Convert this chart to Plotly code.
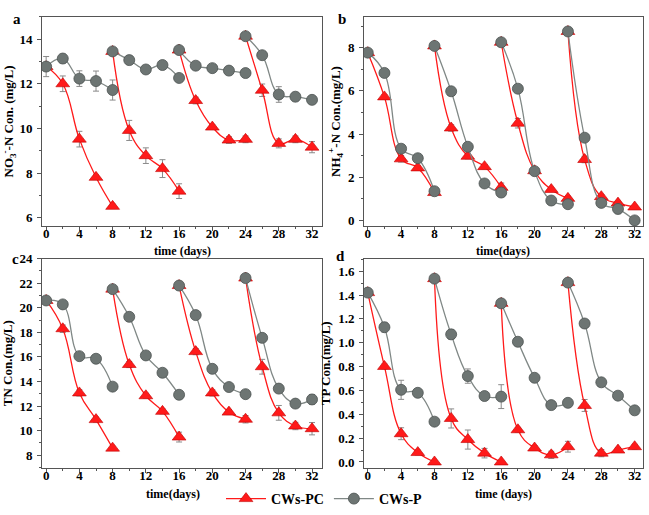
import plotly.graph_objects as go

# ---------------- data (per cycle: 5 sampling days) ----------------
cycle_days = [[0, 2, 4, 6, 8], [8, 10, 12, 14, 16], [16, 18, 20, 22, 24], [24, 26, 28, 30, 32]]
series_names = ["CWs-PC", "CWs-P"]

# a: NO3--N
no3_pc = [[12.77, 12.0, 9.52, 7.81, 6.51], [13.45, 9.91, 8.78, 8.2, 7.19],
          [13.51, 11.25, 10.06, 9.48, 9.51], [14.13, 11.71, 9.33, 9.51, 9.16]]
no3_pc_err = [[0.1, 0.35, 0.35, 0.1, 0.1], [0.1, 0.45, 0.35, 0.4, 0.33],
              [0.1, 0.15, 0.1, 0.15, 0.15], [0.1, 0.28, 0.2, 0.15, 0.25]]
no3_p = [[12.77, 13.13, 12.23, 12.12, 11.72], [13.45, 13.06, 12.64, 12.84, 12.26],
         [13.51, 12.81, 12.7, 12.59, 12.48], [14.13, 13.28, 11.52, 11.42, 11.28]]
no3_p_err = [[0.45, 0.2, 0.35, 0.45, 0.45], [0.1, 0.2, 0.1, 0.1, 0.1],
             [0.1, 0.12, 0.1, 0.1, 0.1], [0.1, 0.1, 0.35, 0.2, 0.15]]

# b: NH4+-N
nh4_pc = [[7.77, 5.72, 2.85, 2.43, 1.29], [8.08, 4.28, 2.97, 2.49, 1.53],
          [8.25, 4.5, 2.3, 1.43, 1.02], [8.75, 2.82, 1.1, 0.8, 0.62]]
nh4_pc_err = [[0.08, 0.1, 0.15, 0.1, 0.12], [0.08, 0.15, 0.12, 0.1, 0.2],
              [0.08, 0.22, 0.1, 0.08, 0.1], [0.08, 0.15, 0.1, 0.08, 0.05]]
nh4_p = [[7.77, 6.83, 3.32, 2.88, 1.35], [8.08, 5.98, 3.41, 1.71, 1.29],
         [8.25, 6.1, 2.28, 0.92, 0.75], [8.75, 3.83, 0.81, 0.53, 0.0]]
nh4_p_err = [[0.08, 0.05, 0.05, 0.05, 0.15], [0.08, 0.05, 0.1, 0.05, 0.05],
             [0.08, 0.05, 0.1, 0.05, 0.05], [0.08, 0.1, 0.1, 0.22, 0.05]]

# c: TN
tn_pc = [[20.59, 18.29, 13.07, 10.9, 8.58], [21.51, 15.38, 12.84, 11.57, 9.48],
         [21.8, 16.43, 13.07, 11.51, 10.93], [22.41, 15.2, 11.45, 10.38, 10.16]]
tn_pc_err = [[0.2, 0.3, 0.25, 0.2, 0.15], [0.2, 0.25, 0.2, 0.2, 0.4],
             [0.2, 0.25, 0.25, 0.2, 0.3], [0.2, 0.6, 0.6, 0.3, 0.5]]
tn_p = [[20.59, 20.27, 16.06, 15.85, 13.58], [21.51, 19.26, 16.12, 14.71, 12.92],
        [21.8, 19.4, 15.03, 13.55, 12.97], [22.41, 17.55, 13.42, 12.2, 12.54]]
tn_p_err = [[0.2, 0.1, 0.1, 0.1, 0.1], [0.2, 0.15, 0.1, 0.1, 0.1],
            [0.2, 0.1, 0.1, 0.1, 0.1], [0.2, 0.1, 0.1, 0.15, 0.4]]

# d: TP
tp_pc = [[1.42, 0.801, 0.237, 0.079, 0.0], [1.537, 0.365, 0.188, 0.074, 0.0],
         [1.33, 0.27, 0.117, 0.06, 0.128], [1.504, 0.474, 0.074, 0.1, 0.128]]
tp_pc_err = [[0.02, 0.02, 0.05, 0.02, 0.01], [0.02, 0.08, 0.08, 0.04, 0.01],
             [0.02, 0.02, 0.02, 0.03, 0.045], [0.02, 0.05, 0.03, 0.02, 0.02]]
tp_p = [[1.42, 1.13, 0.605, 0.58, 0.338], [1.537, 1.07, 0.72, 0.553, 0.548],
        [1.33, 1.008, 0.706, 0.477, 0.496], [1.504, 1.161, 0.668, 0.556, 0.433]]
tp_p_err = [[0.02, 0.04, 0.08, 0.02, 0.02], [0.02, 0.04, 0.06, 0.02, 0.1],
            [0.02, 0.02, 0.02, 0.02, 0.02], [0.02, 0.02, 0.02, 0.02, 0.03]]

panel_letters = ["a", "b", "c", "d"]
y_titles = ["NO<sub>3</sub><sup>-</sup>-N Con. (mg/L)", "NH<sub>4</sub><sup>+</sup>-N Con.(mg/L)",
            "TN Con.(mg/L)", "TP Con.(mg/L)"]
x_titles = ["time (days)", "time(days)", "time(days)", "time (days)"]
y_ranges = [[5.62, 15.0], [-0.27, 9.43], [6.97, 24.0], [-0.05, 1.706]]
y_dticks = [2, 2, 2, 0.2]
y_minor = [1, 1, 1, 0.1]

panels = [(no3_pc, no3_pc_err, no3_p, no3_p_err),
          (nh4_pc, nh4_pc_err, nh4_p, nh4_p_err),
          (tn_pc, tn_pc_err, tn_p, tn_p_err),
          (tp_pc, tp_pc_err, tp_p, tp_p_err)]

# ---------------- styling ----------------
W, H = 649, 515
FONT = "Liberation Serif"
RED = "#ff1a1a"
GRAY_LINE = "#808886"
GRAY_FILL = "#6d7573"
GRAY_EDGE = "#4c5352"
ERR = "#8a8a8a"
AX = "#555555"

def px_x(a, b):
    return [a / W, b / W]

def px_y(top, bottom):
    return [1 - bottom / H, 1 - top / H]

x_domains = [px_x(42, 322), px_x(364, 643), px_x(42, 322), px_x(364, 643)]
y_domains = [px_y(10, 224), px_y(10, 224), px_y(257, 471), px_y(257, 471)]
x_ranges = [[-0.5, 33.2], [-0.45, 33.0], [-0.5, 33.2], [-0.45, 33.0]]
xtitle_pos = [(182, 249), (503, 249), (173, 498), (503, 498)]
letter_pos = [(17, 12), (342, 12), (15, 258), (340, 254)]


def flatten(cycles):
    out = []
    for i, c in enumerate(cycles):
        if i:
            out.append(None)
        out.extend(c)
    return out


xs = flatten(cycle_days)

fig = go.Figure()
for i, (pc, pc_e, p, p_e) in enumerate(panels):
    sfx = "" if i == 0 else str(i + 1)
    xa, ya = "x" + sfx, "y" + sfx
    fig.add_trace(go.Scatter(
        x=xs, y=flatten(pc), xaxis=xa, yaxis=ya, mode="lines+markers",
        name=series_names[0], showlegend=(i == 0), connectgaps=False,
        line=dict(color=RED, width=1.3, shape="spline", smoothing=1.2),
        marker=dict(symbol="triangle-up", size=12, color=RED,
                    line=dict(color="#c00000", width=0.6)),
        error_y=dict(type="data", array=flatten(pc_e), color=ERR, thickness=1, width=3)))
    fig.add_trace(go.Scatter(
        x=xs, y=flatten(p), xaxis=xa, yaxis=ya, mode="lines+markers",
        name=series_names[1], showlegend=(i == 0), connectgaps=False,
        line=dict(color=GRAY_LINE, width=1.3, shape="spline", smoothing=1.2),
        marker=dict(symbol="circle", size=11, color=GRAY_FILL,
                    line=dict(color=GRAY_EDGE, width=0.8)),
        error_y=dict(type="data", array=flatten(p_e), color=ERR, thickness=1, width=3)))

layout = dict(
    width=W, height=H, margin=dict(l=0, r=0, t=0, b=0),
    paper_bgcolor="white", plot_bgcolor="white",
    font=dict(family=FONT, size=12, color="black"),
    showlegend=True,
    legend=dict(orientation="h", x=0.5, xanchor="center", y=1 - 503 / H, yanchor="middle",
                font=dict(family=FONT, size=14, color="black", weight="bold"),
                bgcolor="rgba(0,0,0,0)", itemwidth=40, traceorder="normal"),
)

annotations = []
for i in range(4):
    sfx = "" if i == 0 else str(i + 1)
    layout["xaxis" + sfx] = dict(
        domain=x_domains[i], range=x_ranges[i], anchor="y" + sfx,
        tickmode="linear", tick0=0, dtick=4, ticks="outside", ticklen=4, tickwidth=1,
        tickcolor=AX, showline=True, linecolor=AX, linewidth=1, mirror=True,
        showgrid=False, zeroline=False, ticklabelstandoff=-9,
        minor=dict(dtick=2, tick0=0, ticks="outside", ticklen=2, tickcolor=AX, showgrid=False),
        tickfont=dict(family=FONT, size=13, color="black", weight="bold"))
    layout["yaxis" + sfx] = dict(
        domain=y_domains[i], range=y_ranges[i], anchor="x" + sfx,
        tickmode="linear", tick0=0, dtick=y_dticks[i], ticks="outside", ticklen=4, tickwidth=1,
        tickcolor=AX, showline=True, linecolor=AX, linewidth=1, mirror=True,
        showgrid=False, zeroline=False, ticklabelstandoff=2,
        minor=dict(dtick=y_minor[i], tick0=0, ticks="outside", ticklen=2, tickcolor=AX, showgrid=False),
        tickformat=".1f" if i == 3 else "d",
        tickfont=dict(family=FONT, size=13, color="black", weight="bold"),
        title=dict(text=y_titles[i], standoff=4,
                   font=dict(family=FONT, size=13, color="black", weight="bold")))
    tx, ty = xtitle_pos[i]
    annotations.append(dict(text=x_titles[i], x=tx / W, y=1 - ty / H, xref="paper", yref="paper",
                            xanchor="center", yanchor="middle", showarrow=False,
                            font=dict(family=FONT, size=12, color="black", weight="bold")))
    lx, ly = letter_pos[i]
    annotations.append(dict(text=panel_letters[i], x=lx / W, y=1 - ly / H, xref="paper", yref="paper",
                            xanchor="center", yanchor="middle", showarrow=False,
                            font=dict(family=FONT, size=15, color="black", weight="bold")))

layout["annotations"] = annotations
fig.update_layout(**layout)
fig.write_html("out.html", config={"displayModeBar": False},
               post_script="document.body.style.margin='0';document.body.style.overflow='hidden';")
